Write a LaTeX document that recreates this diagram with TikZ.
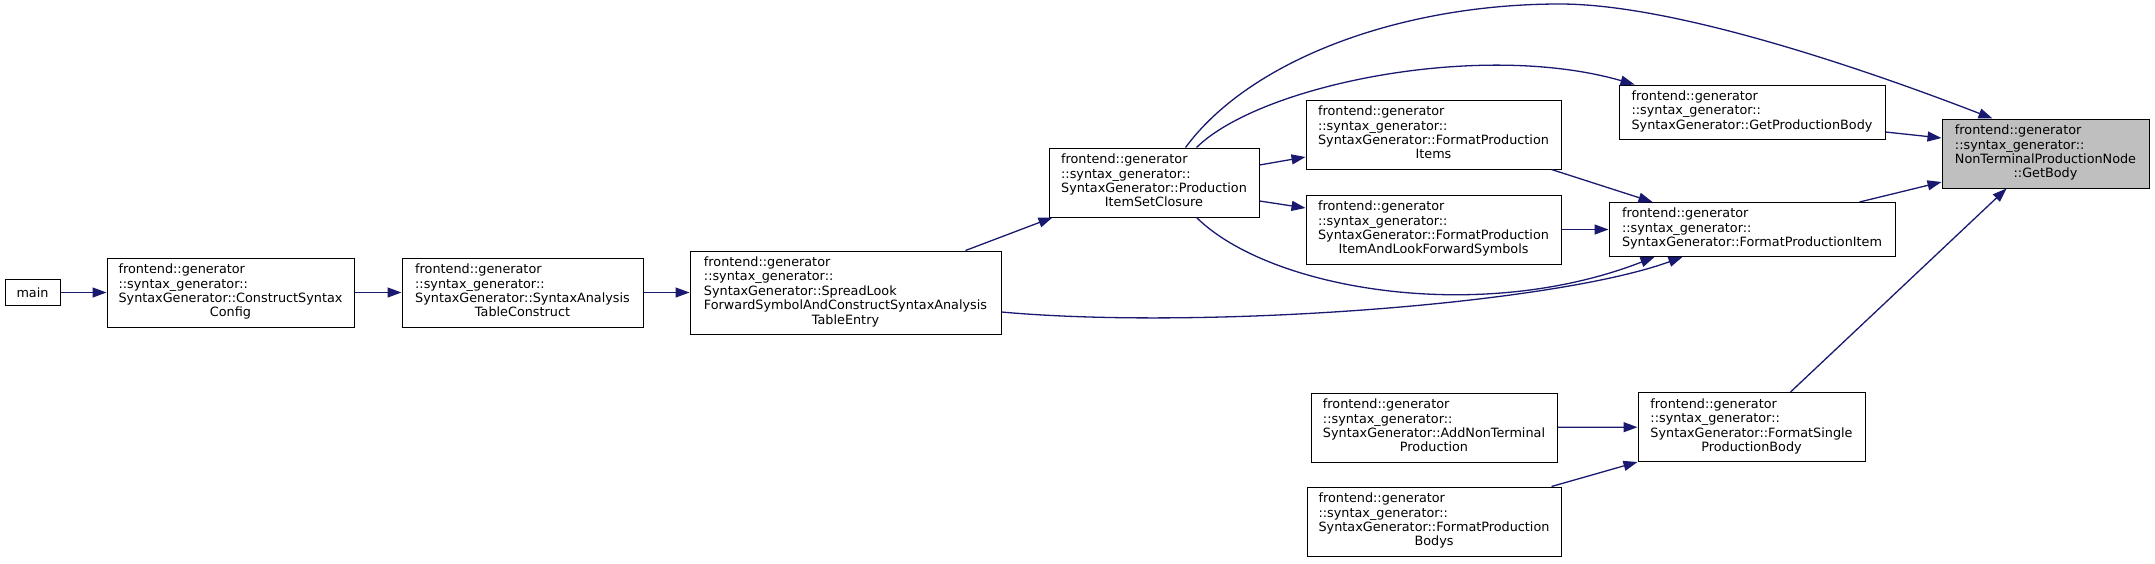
\documentclass[tikz,border=0pt]{standalone}
\usepackage{fontspec}
\setmainfont{DejaVu Sans}
\usetikzlibrary{arrows.meta}
\definecolor{edgeblue}{HTML}{191970}
\definecolor{focusgray}{HTML}{BFBFBF}
\newcommand{\fnlabel}[2]{\begin{tabular}{@{}l@{}}#1\\\multicolumn{1}{@{}c@{}}{#2}\end{tabular}}
\tikzset{
  fn/.style={draw=black, line width=1pt, fill=white, inner sep=0pt, align=center,
    font=\fontsize{12.8}{14.4}\selectfont},
  focus/.style={fn, fill=focusgray},
  call/.style={draw=edgeblue, line width=1.3pt, -{Triangle[length=14pt,width=10pt]}, edgeblue}
}
\begin{document}
\begin{tikzpicture}[x=1pt,y=-1pt]
\fill[white] (0,0) rectangle (2155,563);
\useasboundingbox (0,0) rectangle (2155,563);

\node[fn, minimum width=55pt, minimum height=26pt] (main) at (32.5,292.5) {main};
\node[fn, minimum width=247pt, minimum height=69pt] (CS) at (230.5,292.5)
  {\fnlabel{frontend::generator\\::syntax\_generator::\\SyntaxGenerator::ConstructSyntax}{Config}};
\node[fn, minimum width=241pt, minimum height=69pt] (TC) at (522.5,292.5)
  {\fnlabel{frontend::generator\\::syntax\_generator::\\SyntaxGenerator::SyntaxAnalysis}{TableConstruct}};
\node[fn, minimum width=311pt, minimum height=83pt] (SL) at (845.5,292.5)
  {\fnlabel{frontend::generator\\::syntax\_generator::\\SyntaxGenerator::SpreadLook\\ForwardSymbolAndConstructSyntaxAnalysis}{TableEntry}};
\node[fn, minimum width=210pt, minimum height=69pt] (PC) at (1154,182.5)
  {\fnlabel{frontend::generator\\::syntax\_generator::\\SyntaxGenerator::Production}{ItemSetClosure}};
\node[fn, minimum width=255pt, minimum height=69pt] (FPIs) at (1433.5,134.5)
  {\fnlabel{frontend::generator\\::syntax\_generator::\\SyntaxGenerator::FormatProduction}{Items}};
\node[fn, minimum width=255pt, minimum height=69pt] (ALFS) at (1433.5,229.5)
  {\fnlabel{frontend::generator\\::syntax\_generator::\\SyntaxGenerator::FormatProduction}{ItemAndLookForwardSymbols}};
\node[fn, minimum width=266pt, minimum height=54pt] (GPB) at (1752,112)
  {\fnlabel{frontend::generator\\::syntax\_generator::}{SyntaxGenerator::GetProductionBody}};
\node[fn, minimum width=286pt, minimum height=54pt] (FPI) at (1752,229.5)
  {\fnlabel{frontend::generator\\::syntax\_generator::}{SyntaxGenerator::FormatProductionItem}};
\node[focus, minimum width=207pt, minimum height=69pt] (GB) at (2045.5,153.5)
  {\fnlabel{frontend::generator\\::syntax\_generator::\\NonTerminalProductionNode}{::GetBody}};
\node[fn, minimum width=246pt, minimum height=69pt] (ANT) at (1434,427.5)
  {\fnlabel{frontend::generator\\::syntax\_generator::\\SyntaxGenerator::AddNonTerminal}{Production}};
\node[fn, minimum width=254pt, minimum height=69pt] (FPB) at (1434,521.5)
  {\fnlabel{frontend::generator\\::syntax\_generator::\\SyntaxGenerator::FormatProduction}{Bodys}};
\node[fn, minimum width=227pt, minimum height=69pt] (FSPB) at (1751.5,427)
  {\fnlabel{frontend::generator\\::syntax\_generator::\\SyntaxGenerator::FormatSingle}{ProductionBody}};

\draw[call] (main) -- (CS);
\draw[call] (CS) -- (TC);
\draw[call] (TC) -- (SL);
\draw[call] ([xshift=276pt]SL.north west) -- ([xshift=4pt]PC.south west);
\draw[call] ([yshift=17.5pt]PC.east) -- ([yshift=-22.5pt]FPIs.west);
\draw[call] ([yshift=-18.5pt]PC.east) -- ([yshift=21.5pt]ALFS.west);
\draw[call] ([xshift=148pt]PC.north west) .. controls (1260,85) and (1480,40) .. ([xshift=16pt]GPB.north west);
\draw[call] ([xshift=137pt]PC.north west) .. controls (1250,60) and (1400,4) .. (1560,4)
  .. controls (1680,4) and (1880,75) .. ([xshift=51pt]GB.north west);
\draw[call] ([xshift=148pt]PC.south west) .. controls (1270,290) and (1480,325) .. ([xshift=46pt]FPI.south west);
\draw[call] ([yshift=-19.5pt]SL.east) .. controls (1200,330) and (1550,305) .. ([xshift=74pt]FPI.south west);
\draw[call] ([xshift=246pt]FPIs.south west) -- ([xshift=44pt]FPI.north west);
\draw[call] (ALFS) -- (FPI);
\draw[call] ([yshift=-20pt]GPB.east) -- ([yshift=15.5pt]GB.west);
\draw[call] ([xshift=251pt]FPI.north west) -- ([yshift=-28.5pt]GB.west);
\draw[call] ([xshift=153pt]FSPB.north west) -- ([xshift=65pt]GB.south west);
\draw[call] (ANT) -- (FSPB);
\draw[call] ([xshift=245pt]FPB.north west) -- (FSPB.south west);
\end{tikzpicture}
\end{document}
